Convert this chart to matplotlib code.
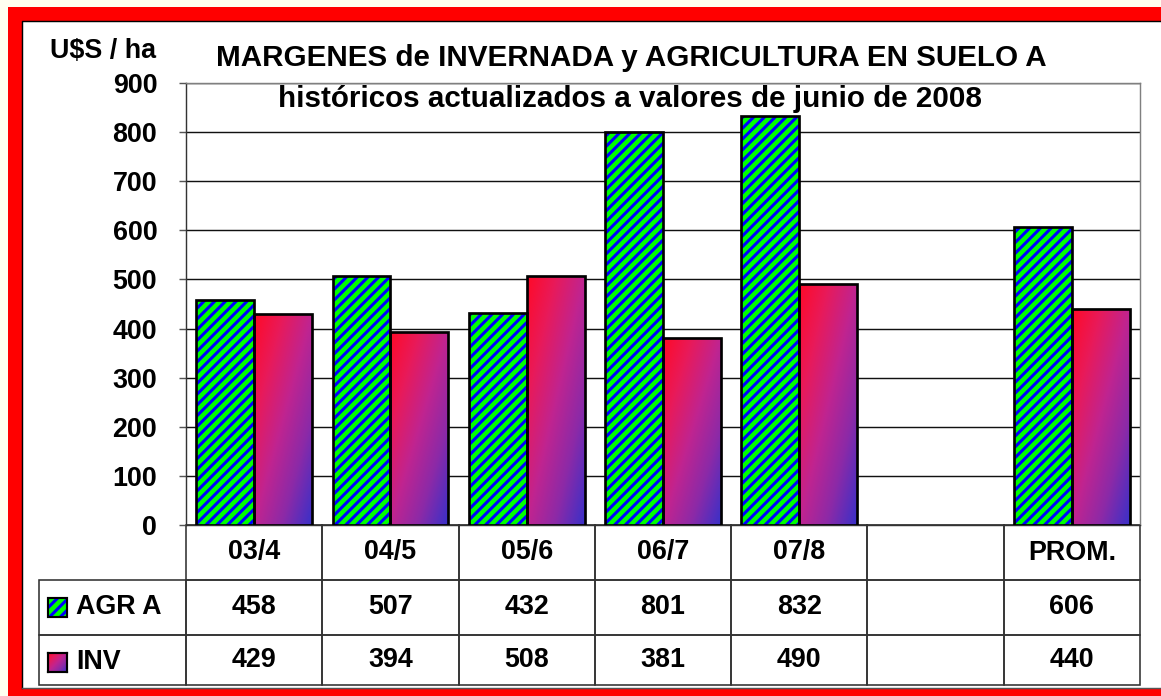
import numpy as np
import matplotlib
matplotlib.use("Agg")
import matplotlib.pyplot as plt
from matplotlib.patches import Rectangle
from matplotlib.colors import LinearSegmentedColormap

# data
categories = ["03/4", "04/5", "05/6", "06/7", "07/8", "", "PROM."]
agr = [458, 507, 432, 801, 832, None, 606]
inv = [429, 394, 508, 381, 490, None, 440]
series_names = ["AGR A", "INV"]
yticks = list(range(0, 1000, 100))

W, H, DPI = 1161, 696, 129
plt.rcParams["font.family"] = ["Liberation Sans", "DejaVu Sans"]
plt.rcParams["font.weight"] = "bold"
plt.rcParams["hatch.linewidth"] = 1.7

GREEN = "#00FF00"
BLUE = "#0000FF"
grad_cmap = LinearSegmentedColormap.from_list(
    "inv", ["#FF0A28", "#E81A5A", "#C02490", "#8A2AA8", "#3A30C8"])


def grad_array(n=64):
    u = np.linspace(0, 1, n)[None, :]
    v = np.linspace(0, 1, n)[:, None]   # 0 top, 1 bottom
    return 0.5 * u + 0.5 * v


def px_rect(left, top, right, bottom, **kw):
    # rectangle given in picture pixels (origin top-left)
    return Rectangle((left / W, 1 - bottom / H), (right - left) / W, (bottom - top) / H,
                     transform=fig.transFigure, **kw)


fig = plt.figure(figsize=(W / DPI, H / DPI), dpi=DPI, facecolor="#FFFFF0")
# red frame: top, left and bottom strips (right side is cut off in the original)
for r in [(8, 7, W, 21), (8, 7, 22, H), (8, 688, W, H)]:
    fig.patches.append(px_rect(*r, facecolor="#FF0000", edgecolor="none", zorder=-3))
fig.patches.append(px_rect(22, 21, W, 688, facecolor="white", edgecolor="none", zorder=-2))
fig.lines.append(plt.Line2D([22 / W, 22 / W, 1], [1 - 688 / H, 1 - 21 / H, 1 - 21 / H],
                            transform=fig.transFigure, color="black", lw=0.8))
fig.lines.append(plt.Line2D([22 / W, 1], [1 - 688 / H, 1 - 688 / H],
                            transform=fig.transFigure, color="#555555", lw=0.8))

x0, x1, ytop, ybot = 186, 1140, 83, 525
ax = fig.add_axes([x0 / W, (H - ybot) / H, (x1 - x0) / W, (ybot - ytop) / H])
ax.set_facecolor("white")

n = len(categories)
bw = 0.425
idx = [i for i in range(n) if agr[i] is not None]

# AGR: green with blue stripes, then black outline
ax.bar([i - bw / 2 for i in idx], [agr[i] for i in idx], bw, color=GREEN,
       edgecolor=BLUE, hatch="////", lw=0, zorder=3)
ax.bar([i - bw / 2 for i in idx], [agr[i] for i in idx], bw, fill=False,
       edgecolor="black", lw=1.5, zorder=4)

# INV: diagonal red -> blue gradient inside each bar
inv_bars = ax.bar([i + bw / 2 for i in idx], [inv[i] for i in idx], bw,
                  facecolor="none", edgecolor="black", lw=1.5, zorder=4)
for b in inv_bars:
    bx, by = b.get_x(), b.get_y()
    im = ax.imshow(grad_array(), cmap=grad_cmap, vmin=0, vmax=1, aspect="auto",
                   extent=[bx, bx + b.get_width(), by, by + b.get_height()],
                   zorder=3, interpolation="bilinear")
    im.set_clip_path(b)

ax.set_xlim(-0.5, n - 0.5)
ax.set_ylim(0, 900)
ax.set_yticks(yticks)
ax.set_xticks([])
ax.yaxis.grid(True, color="#111111", lw=0.8)
ax.set_axisbelow(True)
ax.tick_params(axis="y", length=4, width=0.8, color="#555555", labelsize=15, pad=12)
for lbl in ax.get_yticklabels():
    lbl.set_fontweight("bold")
for s in ["top", "right"]:
    ax.spines[s].set_color("#808080")
ax.spines["left"].set_color("#333333")
ax.spines["bottom"].set_color("#333333")

# data table under the plot (first column holds the row labels)
rows_h = [55, 55, 50]
axh = ybot - ytop
lab_w = (186 - 39) / (x1 - x0)
cell_text = [[""] + [("" if v is None else str(v)) for v in agr],
             [""] + [("" if v is None else str(v)) for v in inv]]
tab = ax.table(cellText=cell_text, colLabels=[""] + categories,
               colWidths=[lab_w] + [1 / n] * n, cellLoc="center",
               bbox=[-lab_w, -sum(rows_h) / axh, 1 + lab_w, sum(rows_h) / axh])
tab.auto_set_font_size(False)
tab.set_fontsize(15)
for (r, c), cell in tab.get_celld().items():
    cell.set_edgecolor("#333333")
    cell.set_linewidth(0.9)
    cell.set_height(rows_h[r])
    cell.set_facecolor("none")
    cell.get_text().set_fontweight("bold")
tab[0, 0].visible_edges = ""

# row labels with legend chips
lab_y = [(ybot - 607) / axh, (ybot - 662) / axh]
ax.text((76 - x0) / (x1 - x0), lab_y[0], series_names[0], transform=ax.transAxes,
        ha="left", va="center", fontsize=15, fontweight="bold")
ax.text((76 - x0) / (x1 - x0), lab_y[1], series_names[1], transform=ax.transAxes,
        ha="left", va="center", fontsize=15, fontweight="bold")
chip_w = 19 / (x1 - x0)
chip_h = 19 / axh
cx = (48 - x0) / (x1 - x0)
ax.add_patch(Rectangle((cx, lab_y[0] - chip_h / 2), chip_w, chip_h, transform=ax.transAxes,
                       facecolor=GREEN, edgecolor=BLUE, hatch="////", lw=0, clip_on=False))
ax.add_patch(Rectangle((cx, lab_y[0] - chip_h / 2), chip_w, chip_h, transform=ax.transAxes,
                       fill=False, edgecolor="black", lw=1.2, clip_on=False))
chip = ax.inset_axes([cx, lab_y[1] - chip_h / 2, chip_w, chip_h])
chip.imshow(grad_array(), cmap=grad_cmap, vmin=0, vmax=1, aspect="auto")
chip.set_xticks([])
chip.set_yticks([])
for s in chip.spines.values():
    s.set_linewidth(1.2)

# titles
fig.text(50 / W, 1 - 58 / H, r"U\$S / ha", ha="left", va="baseline",
         fontsize=15, fontweight="bold")
fig.text(631 / W, 1 - 66 / H, "MARGENES de INVERNADA y AGRICULTURA EN SUELO A",
         ha="center", va="baseline", fontsize=16.5, fontweight="bold")
fig.text(630 / W, 1 - 107 / H, "históricos actualizados a valores de junio de 2008",
         ha="center", va="baseline", fontsize=16.5, fontweight="bold", zorder=5)

fig.savefig("out.png", dpi=DPI, facecolor=fig.get_facecolor())
